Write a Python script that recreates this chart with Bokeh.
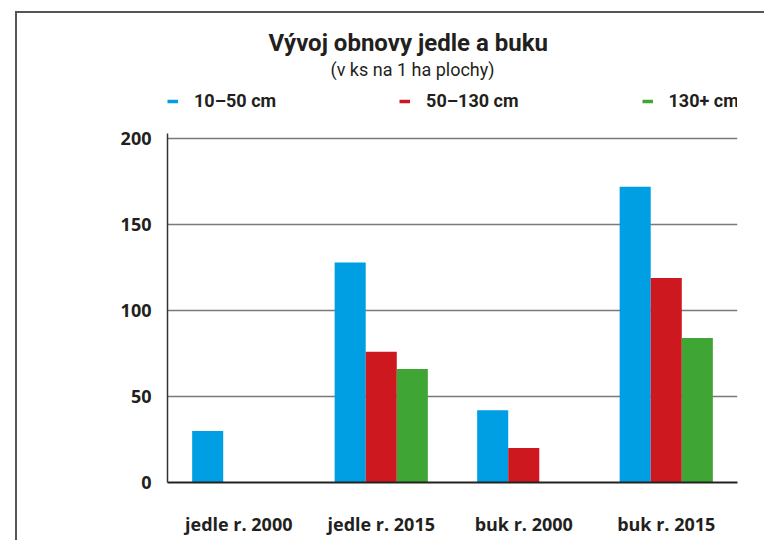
from bokeh.plotting import figure
from bokeh.models import (ColumnDataSource, FactorRange, Range1d, FixedTicker, Legend, LegendItem,
                          Title)
from bokeh.layouts import column
from bokeh.transform import dodge
from bokeh.embed import file_html
from bokeh.resources import INLINE

categories = ["jedle r. 2000", "jedle r. 2015", "buk r. 2000", "buk r. 2015"]
series_names = ["10–50 cm", "50–130 cm", "130+ cm"]
v_10_50 = [30, 128, 42, 172]
v_50_130 = [0, 76, 20, 119]
v_130 = [0, 66, 0, 84]
y_ticks = [0, 50, 100, 150, 200]

colors = ["#009FE3", "#CD181F", "#3FA535"]
TXT = "#231F20"
BORDER = "2px solid #555555"
SHIFT = "translate(15px, 11px)"

# ---------- header: title, subtitle, legend ----------
hdr = figure(width=749, height=110, x_range=Range1d(0, 1), y_range=Range1d(0, 1),
             x_axis_location=None, y_axis_location=None,
             output_backend="svg", toolbar_location=None,
             min_border_left=150, min_border_right=4, min_border_top=77, min_border_bottom=8)
hdr.outline_line_color = None
hdr.xgrid.visible = False
hdr.ygrid.visible = False
hdr.styles = {"border-left": BORDER, "border-top": BORDER, "transform": SHIFT}

# legend key proxies (one empty NaN row each, nothing drawn in the plot area)
nan = float("nan")
proxies = [hdr.line(x=[nan], y=[nan], line_color=c, line_width=3.5, line_cap="butt")
           for c in colors]
legend = Legend(items=[LegendItem(label=n, renderers=[r]) for n, r in zip(series_names, proxies)],
                orientation="horizontal", location="top_left", spacing=123,
                glyph_width=11, glyph_height=20, label_height=20, label_standoff=16,
                padding=0, margin=0,
                label_text_font="Roboto", label_text_font_style="bold",
                label_text_font_size="18px", label_text_color=TXT,
                border_line_color=None, background_fill_alpha=0)
hdr.add_layout(legend)

spacer = Title(text=" ", text_font_size="1px", standoff=8)
hdr.add_layout(spacer, "above")
sub = Title(text="(v ks na 1 ha plochy)", align="left", offset=163,
            text_font="Roboto", text_font_style="normal", text_font_size="18px",
            text_color=TXT, standoff=0)
hdr.add_layout(sub, "above")
tit = Title(text="Vývoj obnovy jedle a buku", align="left", offset=101,
            text_font="Roboto", text_font_style="bold", text_font_size="24px",
            text_color=TXT, standoff=0)
hdr.add_layout(tit, "above")

# ---------- main chart ----------
src = ColumnDataSource(dict(cat=categories, a=v_10_50, b=v_50_130, c=v_130))

p = figure(x_range=FactorRange(*categories, range_padding=0), y_range=Range1d(0, 203),
           width=749, height=419, output_backend="svg", toolbar_location=None,
           min_border_left=150, min_border_right=29, min_border_top=12, min_border_bottom=58)
p.outline_line_color = None
p.styles = {"border-left": BORDER, "transform": SHIFT}

bw = 0.218
for col, off, c in zip(["a", "b", "c"], [-bw, 0, bw], colors):
    p.vbar(x=dodge("cat", off, range=p.x_range), top=col, bottom=0, width=bw, source=src,
           fill_color=c, line_color=None)

p.xgrid.grid_line_color = None
p.ygrid.grid_line_color = "#7a7a7a"
p.ygrid.grid_line_width = 1.6
p.ygrid.ticker = FixedTicker(ticks=y_ticks)

p.yaxis.ticker = FixedTicker(ticks=y_ticks)
p.yaxis.axis_line_color = "#333333"
p.yaxis.axis_line_width = 1.5
p.yaxis.major_tick_line_color = None
p.yaxis.minor_tick_line_color = None
p.yaxis.major_label_standoff = 10
p.yaxis.major_label_text_font = "Open Sans"
p.yaxis.major_label_text_font_style = "bold"
p.yaxis.major_label_text_font_size = "18px"
p.yaxis.major_label_text_color = TXT

p.xaxis.axis_line_color = "#222222"
p.xaxis.axis_line_width = 2
p.xaxis.major_tick_line_color = None
p.xaxis.minor_tick_line_color = None
p.xaxis.major_label_standoff = 23
p.xaxis.major_label_text_font = "Open Sans"
p.xaxis.major_label_text_font_style = "bold"
p.xaxis.major_label_text_font_size = "18px"
p.xaxis.major_label_text_color = TXT

layout = column(hdr, p, spacing=0)
open("out.html", "w").write(file_html(layout, INLINE))
